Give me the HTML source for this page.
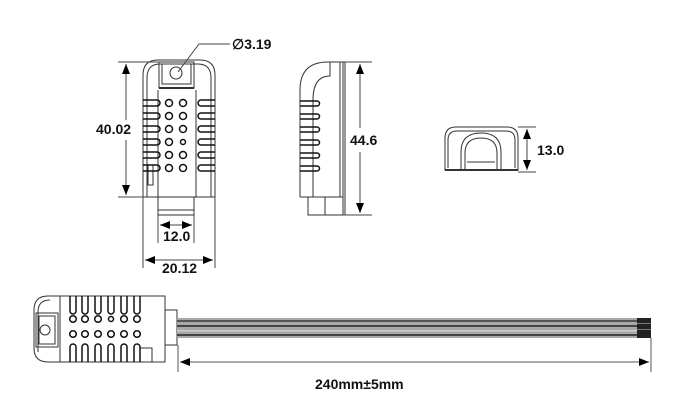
<!DOCTYPE html>
<html><head><meta charset="utf-8"><style>
html,body{margin:0;padding:0;background:#fff;width:700px;height:407px;overflow:hidden}
text{font-family:"Liberation Sans",sans-serif;font-weight:bold;font-size:14px;fill:#111}
</style></head><body>
<svg width="700" height="407" viewBox="0 0 700 407" xmlns="http://www.w3.org/2000/svg">
<defs>
<marker id="a" markerWidth="10" markerHeight="8" refX="10" refY="4" orient="auto-start-reverse" markerUnits="userSpaceOnUse"><path d="M0,0 L10,4 L0,8 Z" fill="#000"/></marker>
</defs>
<g fill="none" stroke="#333" stroke-width="1">
<path d="M143,197 V75 Q143,60 158,60 H200 Q215,60 215,75 V197 Z"/>
<path d="M147,197 V78 Q147,64 160,64 H198 Q211,64 211,78 V197"/>
<rect x="159" y="62" width="35" height="26"/>
<rect x="162" y="64" width="29" height="20"/>
<circle cx="176" cy="73" r="6"/>
<path d="M159,88 H194" stroke-width="2"/>
<line x1="158" y1="90" x2="158" y2="197"/>
<line x1="196" y1="90" x2="196" y2="197"/>
<rect x="148" y="165" width="5" height="20"/>
<rect x="158" y="197" width="36" height="18"/>
<line x1="158" y1="210" x2="194" y2="210"/>
<g stroke="#111" stroke-width="1.5">
<path d="M143,100 h14 a3,3 0 0 1 0,6 h-14"/><path d="M143,113 h14 a3,3 0 0 1 0,6 h-14"/><path d="M143,126 h14 a3,3 0 0 1 0,6 h-14"/><path d="M143,139 h14 a3,3 0 0 1 0,6 h-14"/><path d="M143,152 h14 a3,3 0 0 1 0,6 h-14"/><path d="M143,165 h14 a3,3 0 0 1 0,6 h-14"/>
<path d="M215,100 h-14 a3,3 0 0 0 0,6 h14"/><path d="M215,113 h-14 a3,3 0 0 0 0,6 h14"/><path d="M215,126 h-14 a3,3 0 0 0 0,6 h14"/><path d="M215,139 h-14 a3,3 0 0 0 0,6 h14"/><path d="M215,152 h-14 a3,3 0 0 0 0,6 h14"/><path d="M215,165 h-14 a3,3 0 0 0 0,6 h14"/>
<circle cx="169" cy="103" r="3.5"/><circle cx="183" cy="103" r="3.5"/>
<circle cx="169" cy="116" r="3.5"/><circle cx="183" cy="116" r="3.5"/>
<circle cx="169" cy="129" r="3.5"/><circle cx="183" cy="129" r="3.5"/>
<circle cx="169" cy="142" r="3.5"/><circle cx="183" cy="142" r="2.5"/>
<circle cx="169" cy="155" r="3.5"/><circle cx="183" cy="155" r="3.5"/>
<circle cx="169" cy="168" r="3.5"/><circle cx="183" cy="168" r="3.5"/>
</g>
<g stroke="#444">
<line x1="118" y1="62" x2="160" y2="62"/><line x1="118" y1="197" x2="145" y2="197"/>
<line x1="126" y1="64" x2="126" y2="120" marker-start="url(#a)"/>
<line x1="126" y1="140" x2="126" y2="195" marker-end="url(#a)"/>
<polyline points="178,72 199,44 230,44"/>
<line x1="158" y1="215" x2="158" y2="243"/><line x1="194" y1="215" x2="194" y2="243"/>
<line x1="160" y1="225" x2="192" y2="225" marker-start="url(#a)" marker-end="url(#a)"/>
<line x1="143" y1="197" x2="143" y2="268"/><line x1="215" y1="197" x2="215" y2="268"/>
<line x1="145" y1="260" x2="213" y2="260" marker-start="url(#a)" marker-end="url(#a)"/>
</g>
<path d="M300,197 V90 Q300,62 328,62 H345 V215"/>
<path d="M300,197 H343 V62"/>
<path d="M313,197 V100 Q313,76 330,76 V62"/>
<line x1="340" y1="62" x2="340" y2="197"/>
<rect x="308" y="197" width="35" height="18"/>
<line x1="325" y1="197" x2="325" y2="215"/>
<g stroke="#111" stroke-width="1.5">
<path d="M300,101 h17 a2.5,2.5 0 0 1 0,5 h-17"/><path d="M300,114 h17 a2.5,2.5 0 0 1 0,5 h-17"/><path d="M300,127 h17 a2.5,2.5 0 0 1 0,5 h-17"/><path d="M300,140 h17 a2.5,2.5 0 0 1 0,5 h-17"/><path d="M300,153 h17 a2.5,2.5 0 0 1 0,5 h-17"/><path d="M300,166 h17 a2.5,2.5 0 0 1 0,5 h-17"/>
</g>
<g stroke="#444">
<line x1="345" y1="62" x2="372" y2="62"/><line x1="343" y1="215" x2="372" y2="215"/>
<line x1="360" y1="64" x2="360" y2="128" marker-start="url(#a)"/>
<line x1="360" y1="152" x2="360" y2="213" marker-end="url(#a)"/>
</g>
<path d="M445,170 V138 Q445,127 456,127 H507 Q518,127 518,138 V170 Z"/>
<path d="M448,168 V140 Q448,131 457,131 H506 Q515,131 515,140 V168"/>
<path d="M461,170 V152 Q461,133 481,133 Q501,133 501,152 V170"/>
<path d="M465,170 V153 Q465,138 481,138 Q497,138 497,153 V170"/>
<path d="M467,162 H495"/>
<line x1="445" y1="170" x2="518" y2="170" stroke-width="2"/>
<g stroke="#444">
<line x1="518" y1="127" x2="536" y2="127"/><line x1="518" y1="172" x2="536" y2="172"/>
<line x1="527" y1="129" x2="527" y2="170" marker-start="url(#a)" marker-end="url(#a)"/>
</g>
<path d="M165,296 H48 Q34,296 34,310 V348 Q34,362 48,362 H165 Z"/>
<path d="M60,296 V362"/>
<path d="M38,352 V312 Q38,300 50,300"/>
<rect x="36" y="313" width="22" height="34"/>
<rect x="39" y="316" width="16" height="28"/>
<circle cx="45" cy="330" r="5"/>
<rect x="165" y="310" width="12" height="35"/>
<rect x="140" y="348" width="12" height="14"/>
<g stroke="#111" stroke-width="1.5">
<path d="M70,296 v15 a3,3 0 0 0 6,0 v-15"/><path d="M82,296 v15 a3,3 0 0 0 6,0 v-15"/><path d="M95,296 v15 a3,3 0 0 0 6,0 v-15"/><path d="M108,296 v15 a3,3 0 0 0 6,0 v-15"/><path d="M121,296 v15 a3,3 0 0 0 6,0 v-15"/><path d="M134,296 v15 a3,3 0 0 0 6,0 v-15"/>
<path d="M70,362 v-15 a3,3 0 0 1 6,0 v15"/><path d="M82,362 v-15 a3,3 0 0 1 6,0 v15"/><path d="M95,362 v-15 a3,3 0 0 1 6,0 v15"/><path d="M108,362 v-15 a3,3 0 0 1 6,0 v15"/><path d="M121,362 v-15 a3,3 0 0 1 6,0 v15"/><path d="M134,362 v-15 a3,3 0 0 1 6,0 v15"/>
<circle cx="73" cy="319" r="3.3"/><circle cx="85" cy="319" r="3.3"/><circle cx="98" cy="319" r="3.3"/><circle cx="111" cy="319" r="2.5"/><circle cx="124" cy="319" r="3.3"/><circle cx="137" cy="319" r="3.3"/>
<circle cx="73" cy="334" r="3.3"/><circle cx="85" cy="334" r="3.3"/><circle cx="98" cy="334" r="3.3"/><circle cx="111" cy="334" r="3.3"/><circle cx="124" cy="334" r="3.3"/><circle cx="137" cy="334" r="3.3"/>
</g>
</g>
<rect x="177" y="318" width="460" height="20" fill="#a8a8a8"/>
<rect x="177" y="320" width="460" height="2" fill="#555"/>
<rect x="177" y="325" width="460" height="2" fill="#444"/>
<rect x="177" y="330" width="460" height="1.5" fill="#ccc"/>
<rect x="177" y="334" width="460" height="2" fill="#444"/>
<rect x="637" y="318" width="14" height="20" fill="#222"/>
<rect x="637" y="323" width="14" height="1" fill="#777"/><rect x="637" y="329" width="14" height="1" fill="#777"/>
<g stroke="#555" fill="none">
<line x1="178" y1="345" x2="178" y2="372"/><line x1="651" y1="338" x2="651" y2="372"/>
<line x1="180" y1="362" x2="649" y2="362" marker-start="url(#a)" marker-end="url(#a)"/>
</g>
<text x="96" y="134">40.02</text>
<text x="232" y="49">∅3.19</text>
<text x="163" y="241">12.0</text>
<text x="162" y="273">20.12</text>
<text x="350" y="145">44.6</text>
<text x="537" y="155">13.0</text>
<text x="315" y="389">240mm±5mm</text>
</svg>
</body></html>
